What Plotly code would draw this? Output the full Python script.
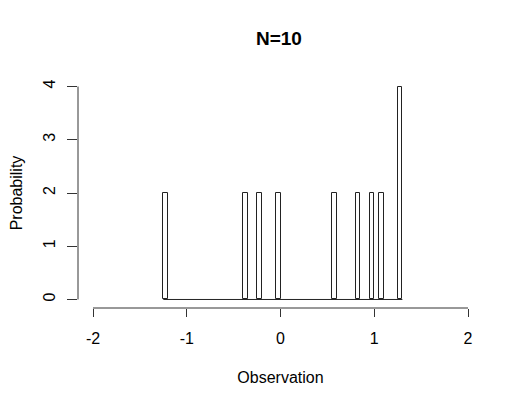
import plotly.graph_objects as go

observations = [-1.225, -0.375, -0.225, -0.025, 0.575, 0.825, 0.975, 1.075, 1.27, 1.28]
bin_start = -1.25
bin_end = 1.30
bin_size = 0.05
x_ticks = [-2, -1, 0, 1, 2]
y_ticks = [0, 1, 2, 3, 4]

font = "Liberation Sans, Arial, Helvetica, sans-serif"

fig = go.Figure()
fig.add_trace(go.Histogram(
    x=observations,
    histnorm="probability density",
    xbins=dict(start=bin_start, end=bin_end, size=bin_size),
    marker=dict(color="white", line=dict(color="#222222", width=1)),
    showlegend=False,
))
# baseline of empty bins
fig.add_trace(go.Scatter(
    x=[bin_start, bin_end], y=[0, 0], mode="lines",
    line=dict(color="#222222", width=1), showlegend=False, hoverinfo="skip",
))

fig.update_layout(
    width=524, height=406,
    margin=dict(l=70, r=49, t=70, b=106),
    paper_bgcolor="white", plot_bgcolor="white",
    font=dict(family=font, size=16, color="black"),
    title=dict(text="<b>N=10</b>", x=0.517, xanchor="center", y=1 - 30.5 / 406, yanchor="middle",
               font=dict(size=19, family=font)),
    bargap=0,
)
fig.update_xaxes(
    range=[-2.16, 2.16], tickvals=x_ticks, ticktext=[str(v) for v in x_ticks],
    ticks="outside", ticklen=8, tickcolor="#333333", tickwidth=1,
    showgrid=False, zeroline=False, showline=False, automargin=False,
    ticklabelstandoff=8,
    title=dict(text="Observation", standoff=25, font=dict(size=16)),
)
fig.update_yaxes(
    range=[-0.16, 4.16], tickvals=y_ticks, ticktext=[str(v) for v in y_ticks],
    ticks="outside", ticklen=10, tickcolor="#333333", tickwidth=1, tickangle=-90,
    showgrid=False, zeroline=False, showline=False, automargin=False,
    ticklabelstandoff=6,
    title=dict(text="Probability", standoff=16, font=dict(size=16)),
)
# axis lines spanning first to last tick (R style)
fig.add_shape(type="line", xref="x", yref="paper", x0=x_ticks[0], x1=x_ticks[-1], y0=0, y1=0,
              line=dict(color="#333333", width=1))
fig.add_shape(type="line", xref="paper", yref="y", x0=0, x1=0, y0=y_ticks[0], y1=y_ticks[-1],
              line=dict(color="#333333", width=1))

fig.write_html("out.html")
